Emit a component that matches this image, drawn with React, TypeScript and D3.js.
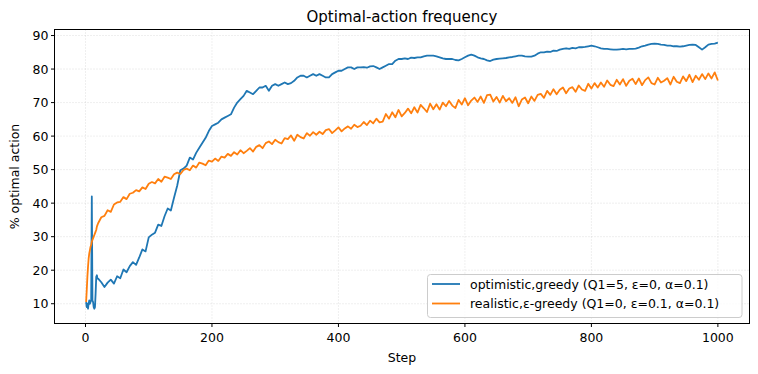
import React from "react";
import * as d3 from "d3";

// steps 1..19 are kept one by one (the spike), then every 5 steps
const earlySteps = d3.range(1, 20);
const laterSteps = d3.range(20, 1001, 5);
const steps = [...earlySteps, ...laterSteps];

const optimisticEarly = [10.5, 9, 10, 8.5, 10, 11, 10, 10.5, 11, 42, 11, 10.5, 9, 8.5, 9, 13, 18, 18.5, 17.5];
const optimisticLater = [
  17.5, 16.4, 15.0, 16.3, 17.2, 16.0, 18.2, 17.6, 20.2, 19.4,
  21.2, 22.4, 21.6, 23.8, 26.2, 25.6, 29.8, 30.6, 31.2, 33.6,
  33.2, 36.1, 38.4, 37.8, 41.6, 45.2, 49.8, 50.3, 51.2, 53.6,
  53, 55, 56.5, 58, 59.5, 61.5, 63, 63.5, 64, 65,
  65.5, 66, 66.5, 68.5, 70, 71, 72, 73.5, 73, 72.5,
  73.5, 74.5, 74.5, 75, 73.5, 75, 75.5, 75, 75.5, 76,
  75.5, 75.8, 76.5, 77.5, 78, 78, 77.5, 78, 78.5, 78,
  78.5, 78, 77.5, 77.5, 78.5, 79, 79.5, 79.5, 80, 80.5,
  80.5, 80, 80.5, 80.5, 80.6, 80.4, 80.8, 80.9, 80.5, 80,
  80.5, 81, 81.5, 81.5, 82.5, 83, 83, 83.2, 83, 83.4,
  83.3, 83.5, 83.5, 83.8, 84, 84, 84, 83.8, 83.5, 83.2,
  83, 83, 83, 82.7, 82.6, 83, 83.5, 84, 84.3, 84,
  83.5, 83.2, 83, 82.6, 82.4, 82.8, 83, 83.1, 83.2, 83.3,
  83.5, 83.6, 83.8, 84, 84, 83.8, 83.7, 83.7, 84, 84.6,
  85, 85, 85.2, 85.1, 85.5, 85.4, 85.8, 86, 86.2, 86,
  86.3, 86.2, 86.5, 86.5, 86.6, 86.8, 87, 86.8, 86.5, 86.2,
  86, 86, 85.9, 85.8, 85.8, 85.9, 86, 85.9, 86, 86,
  86.1, 86.4, 86.8, 87, 87.3, 87.5, 87.6, 87.5, 87.3, 87.2,
  87, 87, 86.8, 86.8, 86.7, 86.8, 87, 87.2, 87.3, 87.2,
  86.5, 85.8, 86.5, 87.3, 87.5, 87.6, 87.9,
];

const realisticEarly = [10.5, 14, 18, 21, 23.5, 25, 26, 27, 27.5, 28.5, 29, 29.5, 30, 30.5, 31, 31.5, 32, 33, 33.5];
const realisticLater = [
  34, 35.8, 36.2, 37.9, 37.4, 39.6, 40.2, 40.4, 41.8, 41.2,
  42.8, 43.1, 43.9, 43.5, 44.7, 44.2, 45.8, 46.3, 45.9, 47.2,
  46.4, 47.9, 47.6, 47.2, 48.6, 49.1, 48.7, 49.9, 50.3, 49.8,
  51.2, 50.6, 52.1, 51.8, 51.3, 52.7, 52.4, 53.3, 52.6, 53.9,
  53.6, 54.7, 54.1, 55.2, 54.5, 55.8, 54.9, 55.6, 56.4, 55.4,
  56.8, 57.3, 56.4, 57.9, 58.4, 57.6, 58.9, 58.2, 57.8, 59.4,
  59.1, 60.2, 58.6, 60.4, 59.7, 59.3, 60.9, 60.1, 61.2, 60.4,
  61.3, 60.6, 61.8, 62.1, 60.9, 61.7, 62.6, 61.4, 62.3, 62.9,
  62.2, 63.4, 62.7, 63.1, 64.2, 63.3, 64.6, 63.8, 65.2, 64.1,
  64.3, 66.6, 65.2, 67.1, 65.6, 67.8, 65.9, 66.9, 68.2, 66.8,
  68.6, 67.0, 69.3, 68.3, 67.2, 69.7, 68.0, 69.5, 67.9, 70.0,
  68.9, 70.5, 69.1, 68.4, 70.8, 69.4, 71.3, 69.2, 70.6, 71.5,
  70.2, 71.8, 69.9, 72.2, 72.4, 70.3, 71.7, 70.0, 72.0, 70.4,
  71.3, 69.9, 71.6, 68.9, 70.9, 71.5, 69.8, 71.8, 70.5, 72.3,
  72.6, 71.4, 73.5, 72.3, 74.0, 72.5, 73.8, 74.5, 72.8, 74.2,
  74.6, 73.2, 75.1, 73.9, 73.5, 75.6, 74.2, 75.8, 74.5, 76.0,
  74.7, 76.6, 75.3, 74.9, 76.8, 75.4, 77.0, 75.0, 76.5, 77.1,
  75.5, 77.2, 75.2, 76.7, 77.5, 75.8, 75.4, 77.4, 76.0, 76.5,
  77.3, 75.4, 77.7, 76.2, 75.8, 77.8, 76.4, 78.3, 76.1, 78.0,
  76.8, 78.5, 77.0, 78.7, 77.2, 79.0, 76.6,
];

const series = [
  { label: "optimistic,greedy (Q1=5, ε=0, α=0.1)", color: "#1f77b4", values: [...optimisticEarly, ...optimisticLater] },
  { label: "realistic,ε-greedy (Q1=0, ε=0.1, α=0.1)", color: "#ff7f0e", values: [...realisticEarly, ...realisticLater] },
];

const xTicks = [0, 200, 400, 600, 800, 1000];
const yTicks = [10, 20, 30, 40, 50, 60, 70, 80, 90];

const W = 758;
const H = 374;
const m = { left: 54.5, right: 749.5, top: 29.5, bottom: 323.5 };
const font = "DejaVu Sans, sans-serif";

export default function App() {
  const x = d3.scaleLinear().domain([-49, 1050]).range([m.left, m.right]);
  const y = d3.scaleLinear().domain([4.1, 91.8]).range([m.bottom, m.top]);
  const line = d3
    .line<number>()
    .x((_, i) => x(steps[i]))
    .y((d) => y(d));

  return (
    <svg width={W} height={H} style={{ position: "absolute", left: 0, top: 0 }} fontFamily={font}>
      <rect width={W} height={H} fill="#fff" />
      {/* grid */}
      {xTicks.map((t) => (
        <line key={"gx" + t} x1={x(t)} x2={x(t)} y1={m.top} y2={m.bottom} stroke="#b0b0b0" strokeOpacity={0.5} strokeWidth={0.8} strokeDasharray="1,2" />
      ))}
      {yTicks.map((t) => (
        <line key={"gy" + t} x1={m.left} x2={m.right} y1={y(t)} y2={y(t)} stroke="#b0b0b0" strokeOpacity={0.5} strokeWidth={0.8} strokeDasharray="1,2" />
      ))}
      {series.map((s) => (
        <path key={s.label} d={line(s.values) || ""} fill="none" stroke={s.color} strokeWidth={1.8} strokeLinejoin="round" />
      ))}
      <rect x={m.left} y={m.top} width={m.right - m.left} height={m.bottom - m.top} fill="none" stroke="#000" strokeWidth={1} />
      {/* axes */}
      {xTicks.map((t) => (
        <g key={"xt" + t}>
          <line x1={x(t)} x2={x(t)} y1={m.bottom} y2={m.bottom + 3.5} stroke="#000" />
          <text x={x(t)} y={m.bottom + 18} fontSize={12.5} textAnchor="middle" fill="#000">{t}</text>
        </g>
      ))}
      {yTicks.map((t) => (
        <g key={"yt" + t}>
          <line x1={m.left - 3.5} x2={m.left} y1={y(t)} y2={y(t)} stroke="#000" />
          <text x={m.left - 6} y={y(t) + 4.5} fontSize={12.5} textAnchor="end" fill="#000">{t}</text>
        </g>
      ))}
      <text x={(m.left + m.right) / 2} y={362} fontSize={12.5} textAnchor="middle">Step</text>
      <text transform={`translate(19,${(m.top + m.bottom) / 2}) rotate(-90)`} fontSize={12.5} textAnchor="middle">% optimal action</text>
      <text x={(m.left + m.right) / 2} y={22} fontSize={15} textAnchor="middle">Optimal-action frequency</text>
      {/* legend */}
      <g>
        <rect x={427.5} y={274.5} width={314.5} height={43} rx={3} fill="#fff" fillOpacity={0.8} stroke="#cccccc" />
        {series.map((s, i) => (
          <g key={"lg" + i} transform={`translate(0,${284 + i * 19.5})`}>
            <line x1={432} x2={460} y1={0} y2={0} stroke={s.color} strokeWidth={1.8} />
            <text x={470} y={4.5} fontSize={12.5} fill="#000">{s.label}</text>
          </g>
        ))}
      </g>
    </svg>
  );
}
